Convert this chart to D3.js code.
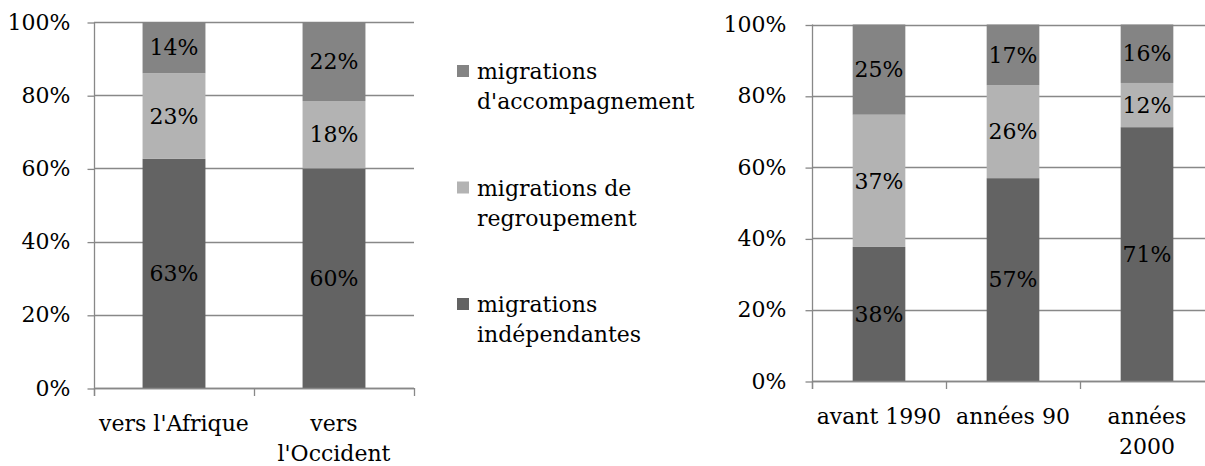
<!DOCTYPE html>
<html>
<head>
<meta charset="utf-8">
<script src="https://cdn.jsdelivr.net/npm/d3@7/dist/d3.min.js"></script>
<style>
  html, body { margin: 0; padding: 0; background: #fff; }
  svg { display: block; font-family: "DejaVu Serif", serif; font-variant-numeric: oldstyle-nums; }
</style>
</head>
<body>
<svg id="chart" width="1205" height="466"></svg>
<script>
// ---- data ----
const seriesKeys = ["independantes", "regroupement", "accompagnement"];
const seriesColors = ["#636363", "#b3b3b3", "#848484"];
const legendLabels = ["migrations\nd'accompagnement", "migrations de\nregroupement", "migrations\nindépendantes"];
const legendColors = ["#848484", "#b3b3b3", "#636363"];

const categoriesA = ["vers l'Afrique", "vers\nl'Occident"];
const independantesA = [62.6, 60.0];
const regroupementA = [23.4, 18.4];
const accompagnementA = [14.0, 21.6];

const categoriesB = ["avant 1990", "années 90", "années\n2000"];
const independantesB = [37.6, 56.9, 71.2];
const regroupementB = [37.1, 26.1, 12.4];
const accompagnementB = [25.3, 17.0, 16.4];

const yTicks = [0, 20, 40, 60, 80, 100];

// ---- drawing ----
const svg = d3.select("#chart");
const FS = 22;
const gridColor = "#888888";

function drawChart(cfg) {
  const { categories, ind, reg, acc, x0, x1, yTop, yBottom, labelPad } = cfg;
  const rows = categories.map((c, i) => ({ cat: c, independantes: ind[i], regroupement: reg[i], accompagnement: acc[i] }));
  const stacked = d3.stack().keys(seriesKeys)(rows);

  const x = d3.scaleBand().domain(categories).range([x0, x1]).paddingInner(0.607).paddingOuter(0.3035);
  const y = d3.scaleLinear().domain([0, 100]).range([yBottom, yTop]);
  const g = svg.append("g");

  // gridlines
  g.selectAll("line.grid").data(yTicks).enter().append("line")
    .attr("x1", x0).attr("x2", x1)
    .attr("y1", d => Math.round(y(d)) + 0.5).attr("y2", d => Math.round(y(d)) + 0.5)
    .attr("stroke", gridColor).attr("stroke-width", 1.3);

  // y axis
  const yAxis = d3.axisLeft(y).tickValues(yTicks).tickSize(7).tickPadding(labelPad).tickFormat(d => d + "%");
  const ya = g.append("g").attr("transform", `translate(${Math.round(x0) + 0.5},0)`).call(yAxis);
  ya.select(".domain").attr("stroke", gridColor).attr("stroke-width", 1.3).attr("d", `M0,${yTop}V${yBottom + 8}`);
  ya.selectAll(".tick line").attr("stroke", gridColor).attr("stroke-width", 1.3)
    .attr("transform", function() { return "translate(0,0.5)"; });
  ya.selectAll(".tick text").attr("font-size", FS).attr("fill", "#000")
    .attr("font-family", '"DejaVu Serif", serif');

  // bars
  stacked.forEach((s, si) => {
    g.selectAll(null).data(s).enter().append("rect")
      .attr("x", d => x(d.data.cat))
      .attr("width", x.bandwidth())
      .attr("y", d => y(d[1]))
      .attr("height", d => y(d[0]) - y(d[1]))
      .attr("fill", seriesColors[si]);
  });

  // x axis line + category boundary ticks
  const step = x.step();
  const bounds = d3.range(categories.length + 1).map(i => x0 + i * step);
  g.append("line").attr("x1", x0).attr("x2", x1)
    .attr("y1", Math.round(yBottom) + 0.5).attr("y2", Math.round(yBottom) + 0.5)
    .attr("stroke", gridColor).attr("stroke-width", 1.3);
  g.selectAll(null).data(bounds).enter().append("line")
    .attr("x1", d => Math.round(d) + 0.5).attr("x2", d => Math.round(d) + 0.5)
    .attr("y1", yBottom).attr("y2", yBottom + 8)
    .attr("stroke", gridColor).attr("stroke-width", 1.3);

  // category labels
  categories.forEach(c => {
    const lines = c.split("\n");
    const t = g.append("text").attr("text-anchor", "middle").attr("font-size", FS).attr("fill", "#000");
    lines.forEach((ln, li) => {
      t.append("tspan").attr("x", x(c) + x.bandwidth() / 2).attr("y", yBottom + 43 + li * 30).text(ln);
    });
  });

  // data labels
  stacked.forEach(s => {
    g.selectAll(null).data(s).enter().append("text")
      .attr("x", d => x(d.data.cat) + x.bandwidth() / 2)
      .attr("y", d => (y(d[0]) + y(d[1])) / 2)
      .attr("dy", "0.35em")
      .attr("text-anchor", "middle").attr("font-size", FS).attr("fill", "#000")
      .text(d => Math.round(d[1] - d[0]) + "%");
  });
}

drawChart({ categories: categoriesA, ind: independantesA, reg: regroupementA, acc: accompagnementA,
  x0: 94, x1: 414, yTop: 22, yBottom: 388, labelPad: 17 });
drawChart({ categories: categoriesB, ind: independantesB, reg: regroupementB, acc: accompagnementB,
  x0: 812, x1: 1214, yTop: 24.5, yBottom: 381, labelPad: 19 });

// legend
const lg = svg.append("g");
legendLabels.forEach((lab, i) => {
  const cy = 71 + i * 116.5;
  lg.append("rect").attr("x", 457).attr("y", cy - 6).attr("width", 12).attr("height", 12).attr("fill", legendColors[i]);
  const t = lg.append("text").attr("font-size", FS).attr("fill", "#000");
  lab.split("\n").forEach((ln, li) => {
    t.append("tspan").attr("x", 477).attr("y", cy + 8 + li * 30).text(ln);
  });
});
</script>
</body>
</html>
